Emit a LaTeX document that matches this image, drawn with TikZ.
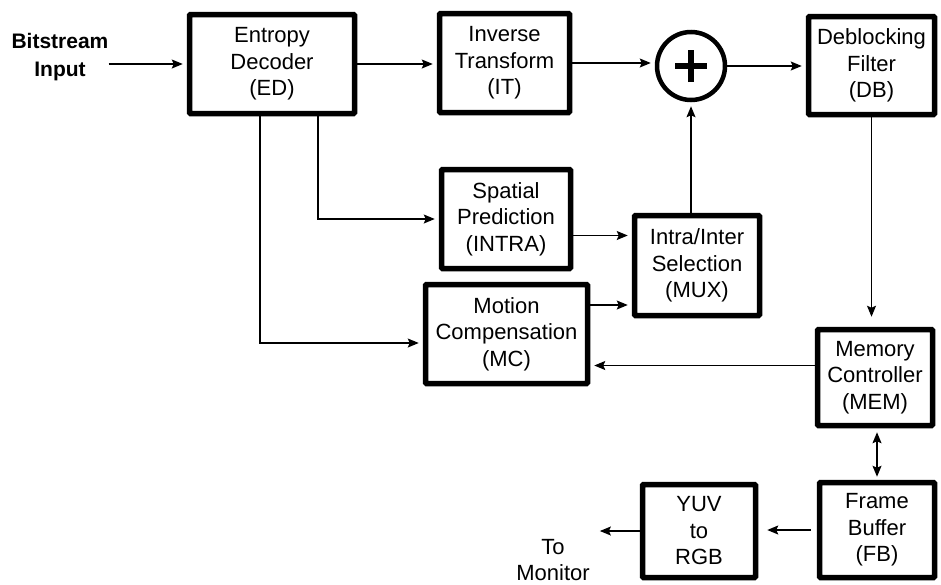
\documentclass[tikz,border=0pt]{standalone}
\usepackage{fontspec}
\setmainfont{Liberation Sans}
\usetikzlibrary{arrows.meta,calc}

\tikzset{
  blk/.style={draw,line width=5.5pt,align=center,inner sep=0pt,rounded corners=1pt},
  lnk/.style={->,line width=1.3pt,shorten >=4pt},
}

\begin{document}
\begin{tikzpicture}[>={Stealth[length=11pt,width=9pt,inset=2pt]},x=1pt,y=-1pt,font=\fontsize{22}{26.5}\selectfont]
\useasboundingbox (0,0) rectangle (941,584);
% blocks
\node[font=\fontsize{21}{28}\selectfont\bfseries,align=center,inner sep=0pt] (in) at (60,57) {Bitstream\\Input};
\node[blk,minimum width=165pt,minimum height=99pt] (ed) at (272,64) {Entropy\\Decoder\\(ED)};
\node[blk,minimum width=130pt,minimum height=99pt] (it) at (504.5,63) {Inverse\\Transform\\(IT)};
\node[circle,draw,line width=4.5pt,minimum size=68pt,inner sep=0pt] (add) at (691,66) {};
\node[blk,minimum width=126pt,minimum height=98pt] (db) at (871.5,65.5) {Deblocking\\Filter\\(DB)};
\node[blk,minimum width=129pt,minimum height=99pt] (intra) at (506,219) {Spatial\\Prediction\\(INTRA)};
\node[blk,minimum width=125pt,minimum height=100pt] (mux) at (697,265.5) {Intra/Inter\\Selection\\(MUX)};
\node[blk,minimum width=162pt,minimum height=99pt] (mc) at (506.5,334) {Motion\\Compensation\\(MC)};
\node[blk,minimum width=115pt,minimum height=96pt] (mem) at (875,377.5) {Memory\\Controller\\(MEM)};
\node[blk,minimum width=115pt,minimum height=95pt] (fb) at (877,530) {Frame\\Buffer\\(FB)};
\node[blk,minimum width=113pt,minimum height=93pt] (yuv) at (699,531) {YUV\\to\\RGB};
\node[align=center,inner sep=0pt] (mon) at (553,560) {To\\Monitor};
% plus sign
\draw[line width=6pt] ([xshift=-16pt]add.center) -- ([xshift=16pt]add.center);
\draw[line width=6pt] ([yshift=-16pt]add.center) -- ([yshift=16pt]add.center);
% connections
\draw[lnk] (in.east |- ed.west) -- (ed.west);
\draw[lnk] (ed.east) -- (ed.east -| it.west);
\draw[lnk] (it.east) -- (it.east -| add.west);
\draw[lnk] (add.east) -- (add.east -| db.west);
\draw[lnk] ([xshift=46pt]ed.south) |- (intra.west);
\draw[lnk] ([xshift=-12pt]ed.south) |- ([yshift=-9pt]mc.west);
\draw[lnk] ([yshift=30pt]mux.west -| intra.east) -- ([yshift=30pt]mux.west);
\draw[lnk] ([yshift=29pt]mc.east) -- ([yshift=29pt]mc.east -| mux.west);
\draw[lnk] (mux.north -| add.south) -- (add.south);
\draw[lnk,shorten >=10pt] (db.south) -- (db.south |- mem.north);
\draw[lnk] ([yshift=12pt]mem.west) -- ([yshift=12pt]mem.west -| mc.east);
\draw[lnk,<->,shorten <=4pt,shorten >=3pt] (fb.north |- mem.south) -- (fb.north);
\draw[lnk,shorten >=9pt,shorten <=6pt] (fb.west) -- (fb.west -| yuv.east);
\draw[lnk,shorten >=10pt] (yuv.west) -- (yuv.west -| mon.east);
\end{tikzpicture}
\end{document}
